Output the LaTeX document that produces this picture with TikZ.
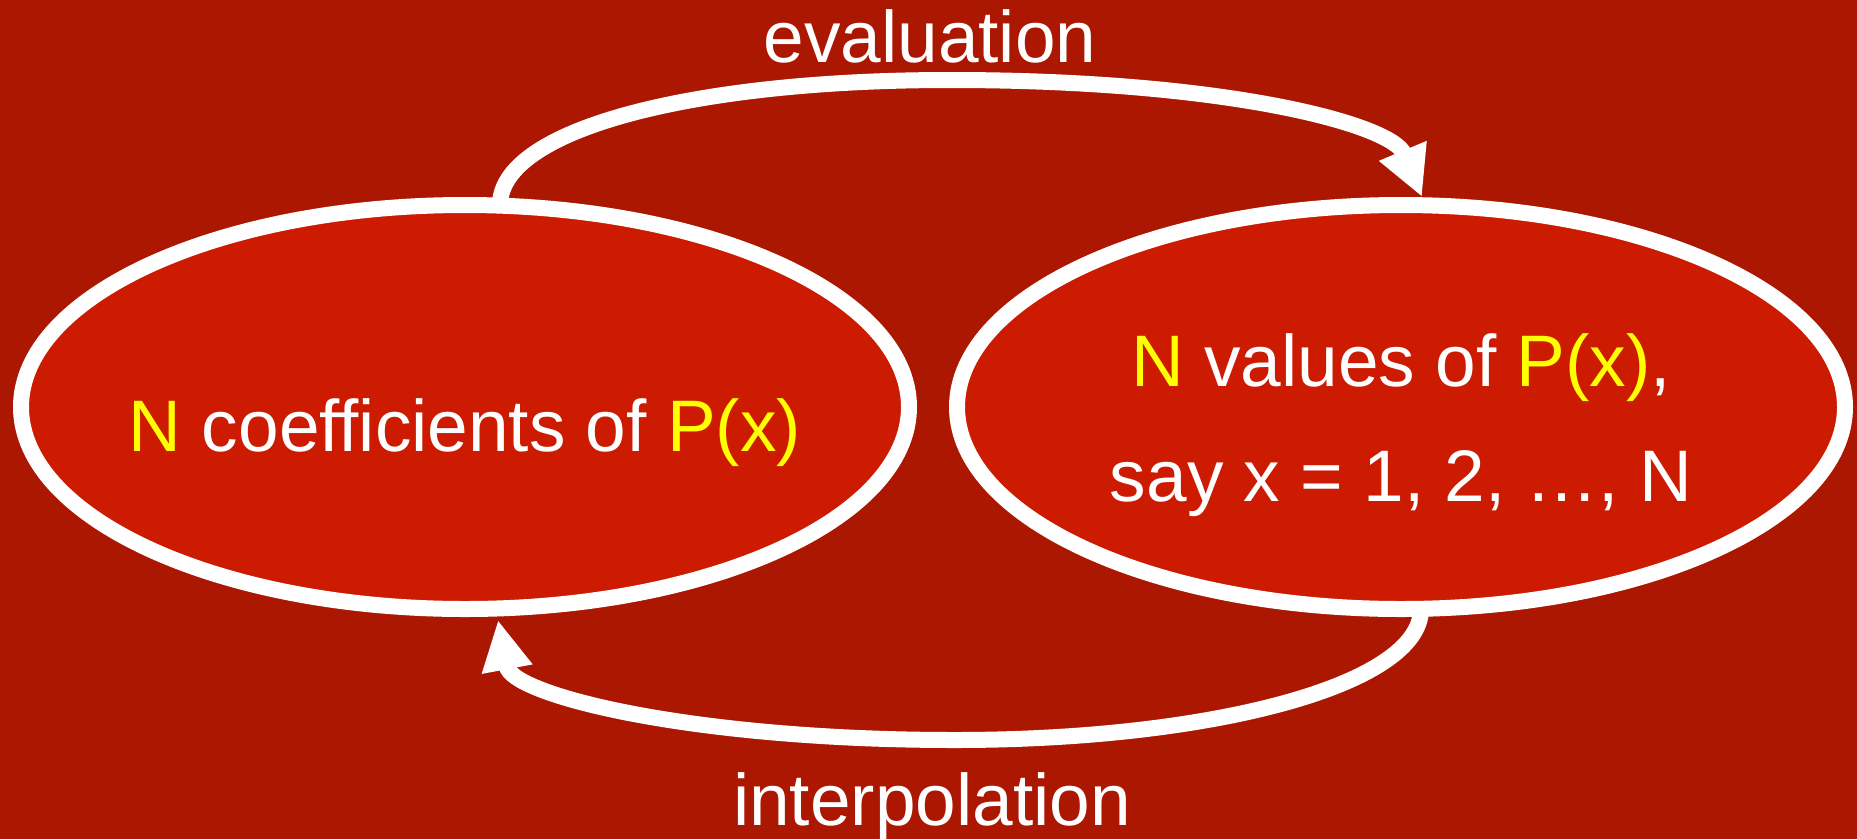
\documentclass[tikz,border=0pt]{standalone}
\usepackage{fontspec}
\setmainfont{Liberation Sans}
\usetikzlibrary{shapes.geometric,arrows.meta}
\definecolor{bg}{HTML}{AB1700}
\definecolor{ell}{HTML}{CC1B00}
\definecolor{yel}{HTML}{FFFF00}
\newcommand{\hlt}[1]{\textcolor{yel}{#1}}
\begin{document}
\begin{tikzpicture}[x=1pt,y=-1pt,
  oval/.style={ellipse, draw=white, line width=16pt, fill=ell,
    minimum width=888pt, minimum height=404pt, inner sep=0pt, outer sep=0pt},
  txt/.style={text=white, font=\fontsize{73}{115}\selectfont, inner sep=0pt, anchor=base},
  conn/.style={draw=white, line width=16pt, -{Triangle[length=50pt,width=48pt]}}]
\fill[bg] (0,0) rectangle (1857,839);
\useasboundingbox (0,0) rectangle (1857,839);
\node[oval] (L) at (465,407) {};
\node[oval] (R) at (1401,407) {};
\node[txt] (lt) at (465,451) {\hlt{N} coefficients of \hlt{P(x)}};
\node[txt] (r1) at (1401,386) {\hlt{N} values of \hlt{P(x)},};
\node[txt] (r2) at (1401,501) {say x = 1, 2, …, N};
\node[txt] (ev) at (930,62) {evaluation};
\node[txt] (ip) at (932,825) {interpolation};
\coordinate (a1) at (500,205);
\coordinate (a2) at (1422,197);
\coordinate (b1) at (1421,609);
\coordinate (b2) at (498,620);
\draw[conn] (a1) .. controls (500,130) and (690,80) .. (950,80)
  .. controls (1230,80) and (1392,125) .. (a2);
\draw[conn] (b1) .. controls (1421,685) and (1212,740) .. (955,740)
  .. controls (690,740) and (512,695) .. (b2);
\end{tikzpicture}
\end{document}
